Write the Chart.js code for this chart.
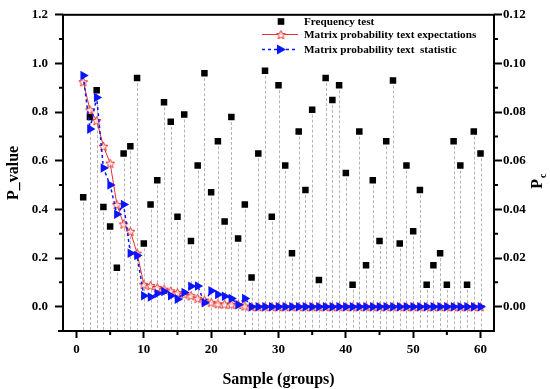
<!DOCTYPE html>
<html><head><meta charset="utf-8">
<script src="https://cdn.jsdelivr.net/npm/chart.js@4.4.1/dist/chart.umd.min.js"></script>
<style>html,body{margin:0;padding:0;background:#fff;}#wrap{width:550px;height:389px;}</style>
</head><body><div id="wrap"><canvas id="c" width="550" height="389"></canvas></div>
<script>
const samples = [1,2,3,4,5,6,7,8,9,10,11,12,13,14,15,16,17,18,19,20,21,22,23,24,25,26,27,28,29,30,31,32,33,34,35,36,37,38,39,40,41,42,43,44,45,46,47,48,49,50,51,52,53,54,55,56,57,58,59,60];
const frequencyTest = [0.45,0.78,0.89,0.41,0.33,0.16,0.63,0.66,0.94,0.26,0.42,0.52,0.84,0.76,0.37,0.79,0.27,0.58,0.96,0.47,0.68,0.35,0.78,0.28,0.42,0.12,0.63,0.97,0.37,0.91,0.58,0.22,0.72,0.48,0.81,0.11,0.94,0.85,0.91,0.55,0.09,0.72,0.17,0.52,0.27,0.68,0.93,0.26,0.58,0.31,0.48,0.09,0.17,0.22,0.09,0.68,0.58,0.09,0.72,0.63];
const expectations = [0.0925,0.081,0.0765,0.066,0.059,0.042,0.034,0.031,0.022,0.0092,0.0087,0.0079,0.0072,0.0065,0.0058,0.0052,0.0045,0.0035,0.0027,0.0018,0.0012,0.0011,0.0010,0.0009,0.0003,0,0,0,0,0,0,0,0,0,0,0,0,0,0,0,0,0,0,0,0,0,0,0,0,0,0,0,0,0,0,0,0,0,0,0];
const statistic = [0.095,0.073,0.086,0.057,0.050,0.038,0.042,0.022,0.021,0.0045,0.0040,0.0054,0.0062,0.0045,0.0031,0.0058,0.0084,0.0085,0.0016,0.0065,0.0050,0.0043,0.0034,0.0008,0.0034,0,0,0,0,0,0,0,0,0,0,0,0,0,0,0,0,0,0,0,0,0,0,0,0,0,0,0,0,0,0,0,0,0,0,0];
const seriesNames = ['Frequency test','Matrix probability text expectations','Matrix probability text  statistic'];
const xTicks = [0,10,20,30,40,50,60];
const xMinor = [5,15,25,35,45,55];
const leftTicks = [0,0.2,0.4,0.6,0.8,1.0,1.2];
const leftMinor = [0.1,0.3,0.5,0.7,0.9,1.1];
const rightTicks = [0,0.02,0.04,0.06,0.08,0.10,0.12];
const rightMinor = [0.01,0.03,0.05,0.07,0.09,0.11];

const SERIF = "'Liberation Serif','Times New Roman',serif";
const RED = '#e8302a', BLUE = '#0a14ff';

function starCanvas(size, color){
  const c = document.createElement('canvas'); c.width = size; c.height = size;
  const g = c.getContext('2d');
  const cx = size/2, cy = size/2 + 0.6, R = size/2 - 0.8, r = R*0.45;
  g.beginPath();
  for (let i = 0; i < 10; i++) {
    const a = -Math.PI/2 + i*Math.PI/5, rr = i%2 ? r : R;
    g.lineTo(cx + rr*Math.cos(a), cy + rr*Math.sin(a));
  }
  g.closePath(); g.fillStyle = 'rgba(255,255,255,0.7)'; g.fill();
  g.strokeStyle = color; g.lineWidth = 1; g.stroke();
  return c;
}
const star = starCanvas(11, RED);

const dropLines = {
  id: 'dropLines',
  beforeDatasetsDraw(chart) {
    const ctx = chart.ctx, meta = chart.getDatasetMeta(0), bottom = chart.chartArea.bottom;
    ctx.save(); ctx.strokeStyle = '#b4b4b4'; ctx.lineWidth = 1; ctx.setLineDash([3,2]);
    meta.data.forEach(p => { ctx.beginPath(); ctx.moveTo(Math.round(p.x)+0.5, p.y); ctx.lineTo(Math.round(p.x)+0.5, bottom); ctx.stroke(); });
    ctx.restore();
  }
};

const frame = {
  id: 'frame',
  afterDraw(chart) {
    const ctx = chart.ctx, a = chart.chartArea, s = chart.scales;
    ctx.save(); ctx.strokeStyle = '#000'; ctx.lineWidth = 2;
    ctx.strokeRect(a.left, a.top, a.right - a.left, a.bottom - a.top);
    ctx.beginPath(); ctx.moveTo(a.left - 5, a.bottom); ctx.lineTo(a.left, a.bottom); ctx.stroke();
    // minor ticks
    ctx.lineWidth = 2;
    ctx.beginPath();
    xMinor.forEach(v => { const x = s.x.getPixelForValue(v); ctx.moveTo(x, a.bottom); ctx.lineTo(x, a.bottom + 4); });
    leftMinor.forEach(v => { const y = s.y.getPixelForValue(v); ctx.moveTo(a.left, y); ctx.lineTo(a.left - 4, y); });
    rightMinor.forEach(v => { const y = s.y1.getPixelForValue(v); ctx.moveTo(a.right, y); ctx.lineTo(a.right + 4, y); });
    ctx.stroke();
    // right axis title P_c
    ctx.fillStyle = '#000';
    ctx.translate(537, (a.top + a.bottom)/2 + 8);
    ctx.rotate(-Math.PI/2);
    ctx.textBaseline = 'alphabetic'; ctx.textAlign = 'left';
    ctx.font = 'bold 16px ' + SERIF;
    const wP = ctx.measureText('P').width;
    ctx.fillText('P', -wP/2 - 3, 5);
    ctx.font = 'bold 10px ' + SERIF;
    ctx.fillText('c', wP/2 - 2, 9);
    ctx.restore();
    // legend
    ctx.save();
    const lx1 = 262, lx2 = 298, mx = 281, tx = 304;
    const rows = [21.5, 34.5, 49.5];
    ctx.fillStyle = '#000';
    ctx.fillRect(mx - 3.3, rows[0] - 3.3, 6.6, 6.6);
    ctx.strokeStyle = RED; ctx.lineWidth = 1; ctx.beginPath(); ctx.moveTo(lx1, rows[1]); ctx.lineTo(lx2, rows[1]); ctx.stroke();
    ctx.drawImage(star, mx - 5.5, rows[1] - 5.5);
    ctx.strokeStyle = BLUE; ctx.lineWidth = 1.5; ctx.setLineDash([3,3]); ctx.beginPath(); ctx.moveTo(lx1, rows[2]); ctx.lineTo(lx2, rows[2]); ctx.stroke();
    ctx.setLineDash([]);
    ctx.fillStyle = BLUE; ctx.beginPath(); ctx.moveTo(mx - 4, rows[2] - 5); ctx.lineTo(mx + 5, rows[2]); ctx.lineTo(mx - 4, rows[2] + 5); ctx.closePath(); ctx.fill();
    ctx.fillStyle = '#000'; ctx.font = 'bold 11.2px ' + SERIF; ctx.textBaseline = 'middle'; ctx.textAlign = 'left';
    seriesNames.forEach((n, i) => ctx.fillText(n, tx, rows[i] + 1));
    ctx.restore();
  }
};

const tickFont = { family: SERIF, size: 13, weight: 'bold' };
const titleFont = { family: SERIF, size: 16, weight: 'bold' };
const fmt1 = v => v.toFixed(1), fmt2 = v => v.toFixed(2);

new Chart(document.getElementById('c'), {
  type: 'line',
  data: {
    datasets: [
      { label: seriesNames[0], data: samples.map((s, i) => ({ x: s, y: frequencyTest[i] })), yAxisID: 'y', showLine: false,
        pointStyle: 'rect', pointRadius: 4.6, backgroundColor: '#000', borderColor: '#000', borderWidth: 0, order: 2 },
      { label: seriesNames[1], data: samples.map((s, i) => ({ x: s, y: expectations[i] })), yAxisID: 'y1',
        borderColor: RED, borderWidth: 1, pointStyle: star, pointRadius: 5, tension: 0, order: 1 },
      { label: seriesNames[2], data: samples.map((s, i) => ({ x: s, y: statistic[i] })), yAxisID: 'y1',
        borderColor: BLUE, borderWidth: 1.5, borderDash: [3, 3], pointStyle: 'triangle', rotation: 90, pointRadius: 5.5,
        backgroundColor: BLUE, pointBorderWidth: 0, tension: 0, order: 0 }
    ]
  },
  options: {
    responsive: false, animation: false, devicePixelRatio: 1,
    layout: { padding: { top: 12, left: 0, right: 0, bottom: 0 } },
    plugins: { legend: { display: false }, tooltip: { enabled: false } },
    scales: {
      x: { type: 'linear', min: -2, max: 62,
        afterFit: s => { s.height = 58; },
        afterBuildTicks: s => { s.ticks = xTicks.map(v => ({ value: v })); },
        grid: { drawOnChartArea: false, drawTicks: true, tickLength: 7, tickWidth: 2, tickColor: '#000' },
        border: { display: false },
        ticks: { font: tickFont, color: '#000', padding: 4, maxRotation: 0, callback: v => String(v) },
        title: { display: true, text: 'Sample (groups)', font: titleFont, color: '#000', padding: { top: 0, bottom: 0 } } },
      y: { type: 'linear', position: 'left', min: -0.1, max: 1.2,
        afterFit: s => { s.width = 63; },
        afterBuildTicks: s => { s.ticks = leftTicks.map(v => ({ value: v })); },
        grid: { drawOnChartArea: false, drawTicks: true, tickLength: 8, tickWidth: 2, tickColor: '#000' },
        border: { display: false },
        ticks: { font: tickFont, color: '#000', padding: 7, callback: v => fmt1(v) },
        title: { display: true, text: 'P_value', font: titleFont, color: '#000', padding: { top: 4, bottom: 0 } } },
      y1: { type: 'linear', position: 'right', min: -0.01, max: 0.12,
        afterFit: s => { s.width = 56; },
        afterBuildTicks: s => { s.ticks = rightTicks.map(v => ({ value: v })); },
        grid: { drawOnChartArea: false, drawTicks: true, tickLength: 8, tickWidth: 2, tickColor: '#000' },
        border: { display: false },
        ticks: { font: tickFont, color: '#000', padding: 1, callback: v => fmt2(v) } }
    }
  },
  plugins: [dropLines, frame]
});
</script></body></html>
